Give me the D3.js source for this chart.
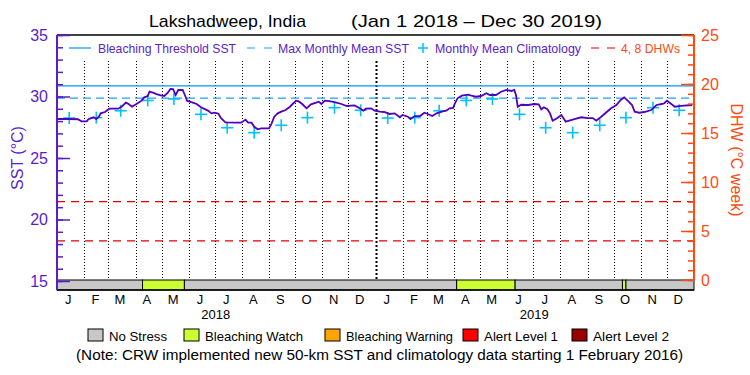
<!DOCTYPE html>
<html><head><meta charset="utf-8">
<script src="https://cdn.jsdelivr.net/npm/d3@7"></script>
<style>
body{margin:0;background:#fff}
svg{display:block}
text{font-family:"Liberation Sans",Arial,sans-serif}
</style>
</head><body>
<svg id="c" width="750" height="375"></svg>
<script>
// ---------- data ----------
const sstDates = ["2018-01-01","2018-01-14","2018-01-25","2018-01-29","2018-02-04","2018-02-06","2018-02-12","2018-02-15","2018-02-18","2018-02-20","2018-02-25","2018-03-02","2018-03-12","2018-03-16","2018-03-21","2018-03-24","2018-03-28","2018-04-02","2018-04-08","2018-04-11","2018-04-15","2018-04-17","2018-04-21","2018-04-25","2018-04-30","2018-05-04","2018-05-08","2018-05-11","2018-05-14","2018-05-17","2018-05-20","2018-05-25","2018-05-28","2018-05-30","2018-06-04","2018-06-10","2018-06-15","2018-06-23","2018-06-27","2018-07-01","2018-07-05","2018-07-08","2018-07-13","2018-07-24","2018-07-31","2018-08-05","2018-08-08","2018-08-12","2018-08-15","2018-08-19","2018-08-23","2018-09-01","2018-09-04","2018-09-07","2018-09-11","2018-09-15","2018-09-20","2018-09-25","2018-09-28","2018-10-02","2018-10-05","2018-10-09","2018-10-14","2018-10-19","2018-10-25","2018-10-28","2018-10-31","2018-11-04","2018-11-09","2018-11-15","2018-11-23","2018-11-29","2018-12-08","2018-12-14","2018-12-18","2018-12-21","2018-12-27","2018-12-31","2019-01-06","2019-01-11","2019-01-17","2019-01-23","2019-01-29","2019-02-01","2019-02-07","2019-02-10","2019-02-15","2019-02-21","2019-02-26","2019-03-02","2019-03-07","2019-03-12","2019-03-18","2019-03-23","2019-03-27","2019-03-31","2019-04-02","2019-04-05","2019-04-10","2019-04-17","2019-04-21","2019-04-26","2019-05-02","2019-05-08","2019-05-12","2019-05-19","2019-05-25","2019-05-31","2019-06-06","2019-06-09","2019-06-11","2019-06-13","2019-06-17","2019-06-25","2019-07-02","2019-07-07","2019-07-10","2019-07-13","2019-07-17","2019-07-20","2019-07-23","2019-07-28","2019-08-02","2019-08-07","2019-08-11","2019-08-19","2019-08-25","2019-09-01","2019-09-07","2019-09-11","2019-09-16","2019-09-22","2019-09-28","2019-10-04","2019-10-09","2019-10-13","2019-10-17","2019-10-22","2019-10-25","2019-10-30","2019-11-05","2019-11-13","2019-11-19","2019-11-25","2019-11-28","2019-12-01","2019-12-06","2019-12-10","2019-12-17","2019-12-30"];
const sstValues = [28.17,28.17,28.15,27.98,27.98,28.15,28.31,28.17,28.36,28.63,28.74,29.01,29.01,29.17,29.50,29.39,29.17,29.39,29.66,29.93,30.04,30.39,30.31,30.20,30.10,30.04,30.31,30.61,30.60,30.12,30.53,30.53,30.04,29.66,29.55,29.39,29.12,28.85,28.63,28.68,28.60,28.23,27.90,27.87,27.87,28.12,27.87,27.87,27.54,27.33,27.41,27.41,27.82,28.36,28.63,28.77,28.90,29.17,29.39,29.66,29.60,29.39,29.04,29.36,29.50,29.58,29.39,29.66,29.63,29.55,29.39,29.23,29.28,29.04,28.85,29.01,29.04,28.85,28.77,28.74,28.58,28.63,28.31,28.50,28.36,28.17,28.41,28.41,28.68,28.58,28.41,28.63,28.77,28.85,29.04,29.07,29.45,29.85,30.07,30.15,30.07,29.98,30.04,30.26,30.12,30.12,30.39,30.53,30.45,30.53,30.12,29.17,29.33,29.31,29.39,29.36,28.96,29.12,28.96,28.63,28.03,28.23,28.50,27.95,28.03,28.20,28.31,28.25,28.25,28.03,28.31,28.68,29.04,29.31,29.72,29.93,29.66,29.31,28.77,28.68,28.74,28.90,29.31,29.39,29.45,29.66,29.39,29.17,29.23,29.31];
const climValues = [28.25,28.28,28.84,29.68,29.80,28.55,27.46,27.06,27.66,28.28,29.09,28.88];
const climYears = ["2018","2019"];
const mmmSST = 29.87;
const thresholdSST = 30.87;
const dhwLevels = [4, 8];
const stressStart = ["2018-01-01","2018-04-09","2018-05-27","2019-04-04","2019-06-10","2019-10-11","2019-10-15"];
const stressEnd   = ["2018-04-09","2018-05-27","2019-04-04","2019-06-10","2019-10-11","2019-10-15","2020-01-01"];
const stressLevel = ["No Stress","Bleaching Watch","No Stress","Bleaching Watch","No Stress","Bleaching Watch","No Stress"];
const stressNames = ["No Stress","Bleaching Watch","Bleaching Warning","Alert Level 1","Alert Level 2"];
const stressColors = ["#c8c8c8","#ccff33","#ffa500","#ff0000","#960000"];
const monthLetters = ["J","F","M","A","M","J","J","A","S","O","N","D"];
const yearLabels = ["2018","2019"];
const sstTicks = [15,20,25,30,35];
const dhwTicks = [0,5,10,15,20,25];

// ---------- layout ----------
const L = 57, R = 694, T = 35, B = 281, barTop = 280, barBot = 290;
const purple = "#5a1ec8", lineCol = "#5000c0", orange = "#ff4a10";
const parse = d3.utcParse("%Y-%m-%d");
const svg = d3.select("#c");
const fitText = (sel, len) => sel.attr("textLength", len).attr("lengthAdjust", "spacingAndGlyphs");

const x = d3.scaleUtc().domain([parse("2018-01-01"), parse("2020-01-01")]).range([L, R]);
const y = d3.scaleLinear().domain([15, 35]).range([B, T]);
const yd = d3.scaleLinear().domain([0, 25]).range([B - 1, T]);

// title
fitText(svg.append("text").attr("x", 149).attr("y", 27).attr("font-size", 17).attr("fill", "#000").text("Lakshadweep, India"), 157);
fitText(svg.append("text").attr("x", 351).attr("y", 27).attr("font-size", 17).attr("fill", "#000").text("(Jan 1 2018 \u2013 Dec 30 2019)"), 251);

// month dotted lines
const months = d3.utcMonth.range(parse("2018-02-01"), parse("2020-01-01"));
svg.append("g").selectAll("line").data(months).join("line")
  .attr("x1", d => Math.round(x(d)) + 0.5).attr("x2", d => Math.round(x(d)) + 0.5)
  .attr("y1", T + 2).attr("y2", barTop)
  .attr("stroke", "#000")
  .attr("stroke-width", d => d.getUTCMonth() === 0 ? 2 : 1)
  .attr("stroke-dasharray", d => d.getUTCMonth() === 0 ? "2,2" : "1,2");

// reference lines
svg.append("line").attr("x1", L).attr("x2", R).attr("y1", y(thresholdSST)).attr("y2", y(thresholdSST))
  .attr("stroke", "#0096ff").attr("stroke-width", 1.2);
svg.append("line").attr("x1", L).attr("x2", R).attr("y1", y(mmmSST)).attr("y2", y(mmmSST))
  .attr("stroke", "#1ea0ff").attr("stroke-width", 1.2).attr("stroke-dasharray", "8,5");
svg.append("g").selectAll("line").data(dhwLevels).join("line")
  .attr("x1", L).attr("x2", R).attr("y1", d => yd(d)).attr("y2", d => yd(d))
  .attr("stroke", "#e00000").attr("stroke-width", 1.2).attr("stroke-dasharray", "8,6");

// climatology crosses
const climPts = [];
climYears.forEach(yr => climValues.forEach((v, i) => climPts.push({d: d3.utcDay.offset(new Date(Date.UTC(+yr, i, 1)), 14), v})));
const cg = svg.append("g").attr("stroke", "#00c0ff").attr("stroke-width", 1.6);
climPts.forEach(p => {
  const cx = x(p.d), cy = y(p.v);
  cg.append("line").attr("x1", cx - 6).attr("x2", cx + 6).attr("y1", cy).attr("y2", cy);
  cg.append("line").attr("x1", cx).attr("x2", cx).attr("y1", cy - 6).attr("y2", cy + 6);
});

// SST line
const sst = sstDates.map((d, i) => ({d: parse(d), v: sstValues[i]}));
svg.append("path").datum(sst)
  .attr("fill", "none").attr("stroke", lineCol).attr("stroke-width", 1.8)
  .attr("d", d3.line().x(d => x(d.d)).y(d => y(d.v)));

// legend background (covers dotted lines at the top)
svg.append("rect").attr("x", L + 1).attr("y", T + 1).attr("width", R - L - 2).attr("height", 25).attr("fill", "#fff");

// stress bar
const segs = stressStart.map((s, i) => ({s: parse(s), e: parse(stressEnd[i]), c: stressColors[stressNames.indexOf(stressLevel[i])]}));
svg.append("g").selectAll("rect").data(segs).join("rect")
  .attr("x", d => x(d.s)).attr("width", d => x(d.e) - x(d.s))
  .attr("y", barTop).attr("height", barBot - barTop)
  .attr("fill", d => d.c).attr("stroke", "#000").attr("stroke-width", 1);

// frame
svg.append("line").attr("x1", L).attr("x2", R).attr("y1", T).attr("y2", T).attr("stroke", "#000").attr("stroke-width", 1.5);
svg.append("line").attr("x1", L).attr("x2", R).attr("y1", barBot).attr("y2", barBot).attr("stroke", "#000").attr("stroke-width", 1.5);

// left axis
const gl = svg.append("g").attr("transform", `translate(${L},0)`);
gl.call(d3.axisLeft(y).tickValues(d3.range(15, 36)).tickSize(-6).tickSizeOuter(0).tickFormat(""));
gl.select(".domain").remove();
const gl2 = svg.append("g").attr("transform", `translate(${L},0)`);
gl2.call(d3.axisLeft(y).tickValues(sstTicks).tickSize(-13).tickSizeOuter(0).tickPadding(9));
gl2.select(".domain").remove();
[gl, gl2].forEach(g => { g.selectAll("line").attr("stroke", purple).attr("stroke-width", 1.5); });
gl2.selectAll("text").attr("fill", purple).attr("font-size", 16).attr("font-family", "Liberation Sans, Arial, sans-serif");
svg.append("line").attr("x1", L).attr("x2", L).attr("y1", T).attr("y2", barBot).attr("stroke", purple).attr("stroke-width", 2);

// right axis
const gr = svg.append("g").attr("transform", `translate(${R},0)`);
gr.call(d3.axisRight(yd).tickValues(d3.range(0, 26)).tickSize(-6).tickSizeOuter(0).tickFormat(""));
gr.select(".domain").remove();
const gr2 = svg.append("g").attr("transform", `translate(${R},0)`);
gr2.call(d3.axisRight(yd).tickValues(dhwTicks).tickSize(-13).tickSizeOuter(0).tickPadding(7));
gr2.select(".domain").remove();
[gr, gr2].forEach(g => { g.selectAll("line").attr("stroke", orange).attr("stroke-width", 1.5); });
gr2.selectAll("text").attr("fill", orange).attr("font-size", 16).attr("font-family", "Liberation Sans, Arial, sans-serif");
svg.append("line").attr("x1", R).attr("x2", R).attr("y1", T).attr("y2", barTop).attr("stroke", orange).attr("stroke-width", 2);

// axis titles
svg.append("text").attr("transform", "translate(23,158) rotate(-90)").attr("text-anchor", "middle")
  .attr("font-size", 16).attr("fill", purple).text("SST (\u00B0C)");
svg.append("text").attr("transform", "translate(731,160) rotate(90)").attr("text-anchor", "middle")
  .attr("font-size", 16).attr("fill", orange).text("DHW (\u00B0C week)");

// month and year labels
const allMonths = d3.utcMonth.range(parse("2018-01-01"), parse("2020-01-01"));
svg.append("g").selectAll("text").data(allMonths).join("text")
  .attr("x", d => x(d3.utcDay.offset(d, 13))).attr("y", 304)
  .attr("text-anchor", "middle").attr("font-size", 13).attr("fill", "#000")
  .text(d => monthLetters[d.getUTCMonth()]);
svg.append("g").selectAll("text").data(yearLabels).join("text")
  .attr("x", d => x(new Date(Date.UTC(+d, 6, 2)))).attr("y", 319)
  .attr("text-anchor", "middle").attr("font-size", 13).attr("fill", "#000").text(d => d);

// top legend
const ly = 48;
svg.append("line").attr("x1", 69).attr("x2", 91).attr("y1", ly).attr("y2", ly).attr("stroke", "#0096ff").attr("stroke-width", 1.2);
fitText(svg.append("text").attr("x", 98).attr("y", ly + 5).attr("font-size", 13).attr("fill", purple).text("Bleaching Threshold SST"), 138);
svg.append("line").attr("x1", 247).attr("x2", 272).attr("y1", ly).attr("y2", ly).attr("stroke", "#1ea0ff").attr("stroke-width", 1.2).attr("stroke-dasharray", "8,9");
fitText(svg.append("text").attr("x", 278).attr("y", ly + 5).attr("font-size", 13).attr("fill", purple).text("Max Monthly Mean SST"), 131);
svg.append("line").attr("x1", 418).attr("x2", 428).attr("y1", ly).attr("y2", ly).attr("stroke", "#00c0ff").attr("stroke-width", 1.5);
svg.append("line").attr("x1", 423).attr("x2", 423).attr("y1", ly - 5).attr("y2", ly + 5).attr("stroke", "#00c0ff").attr("stroke-width", 1.5);
fitText(svg.append("text").attr("x", 435).attr("y", ly + 5).attr("font-size", 13).attr("fill", purple).text("Monthly Mean Climatology"), 146);
svg.append("line").attr("x1", 591).attr("x2", 615).attr("y1", ly).attr("y2", ly).attr("stroke", "#e00000").attr("stroke-width", 1.2).attr("stroke-dasharray", "8,8");
fitText(svg.append("text").attr("x", 621).attr("y", ly + 5).attr("font-size", 13).attr("fill", orange).text("4, 8 DHWs"), 59);

// bottom legend
const legX = [88, 184, 325, 463, 572];
const legW = [58, 98, 107, 74, 76];
const lg = svg.append("g");
stressNames.forEach((n, i) => {
  lg.append("rect").attr("x", legX[i]).attr("y", 329).attr("width", 15).attr("height", 12)
    .attr("fill", stressColors[i]).attr("stroke", "#000").attr("stroke-width", 1);
  fitText(lg.append("text").attr("x", legX[i] + 21).attr("y", 341).attr("font-size", 13).attr("fill", "#000").text(n), legW[i]);
});
fitText(svg.append("text").attr("x", 76).attr("y", 360).attr("font-size", 14).attr("fill", "#000")
  .text("(Note: CRW implemented new 50-km SST and climatology data starting 1 February 2016)"), 607);
</script>
</body></html>
